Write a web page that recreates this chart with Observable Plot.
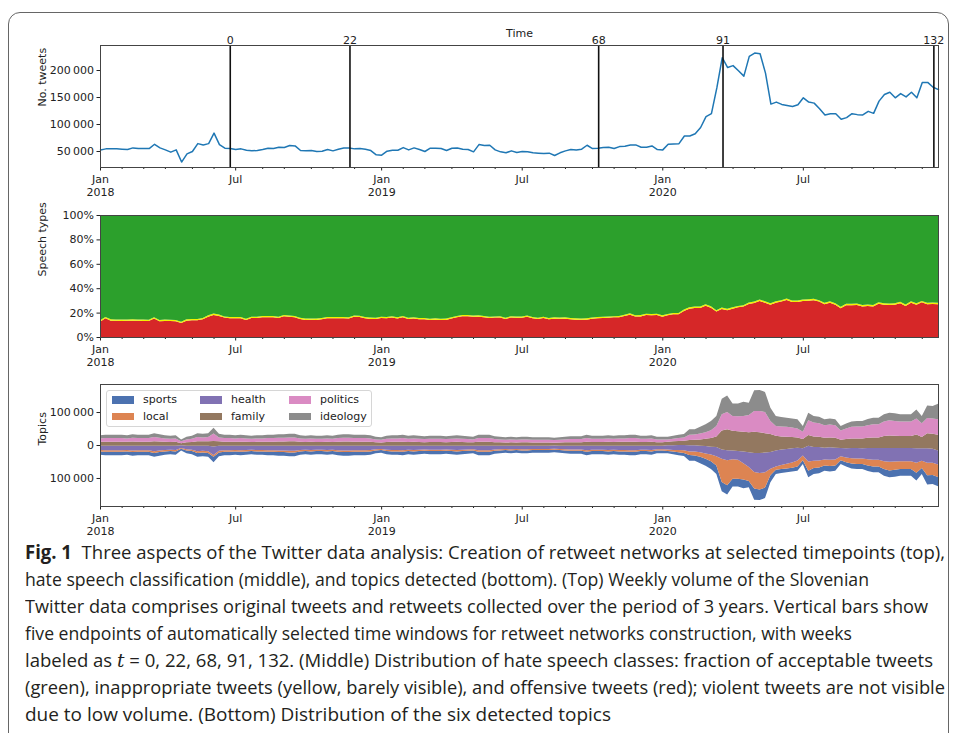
<!DOCTYPE html>
<html><head><meta charset="utf-8">
<script src="https://cdn.jsdelivr.net/npm/d3@7"></script>
<script src="https://cdn.jsdelivr.net/npm/@observablehq/plot@0.6"></script>
<style>
html,body{margin:0;padding:0;background:#fff;}
body{width:958px;height:733px;overflow:hidden;position:relative;font-family:"DejaVu Sans",sans-serif;}
#frame{position:absolute;left:8px;top:12px;width:941px;height:760px;border:1.2px solid #666;border-radius:12px;box-sizing:border-box;}
.panel{position:absolute;left:0;}
#legend{position:absolute;left:106px;top:390px;width:266px;height:37px;border:1px solid #d6d6d6;border-radius:3px;background:rgba(255,255,255,0.85);box-sizing:border-box;font:11px "DejaVu Sans";color:#222;}
#legend .sw{position:absolute;width:22px;height:7.7px;}
#legend .lb{position:absolute;line-height:13px;}
#caption{position:absolute;left:25px;top:539px;font-family:"Liberation Sans Narrow","Open Sans",sans-serif;font-size:19px;color:#231f20;}
#caption .cl{height:27px;line-height:27px;white-space:nowrap;}
#caption .cl span{display:inline-block;transform-origin:0 50%;}
</style></head>
<body>
<div id="frame"></div>
<div id="p1" class="panel" style="top:0px"></div>
<div id="p2" class="panel" style="top:195px"></div>
<div id="p3" class="panel" style="top:365px"></div>
<div id="legend"></div>
<div id="caption">
<div class="cl"><span data-w="920"><b>Fig. 1</b>&nbsp; Three aspects of the Twitter data analysis: Creation of retweet networks at selected timepoints (top),</span></div>
<div class="cl"><span data-w="844">hate speech classification (middle), and topics detected (bottom). (Top) Weekly volume of the Slovenian</span></div>
<div class="cl"><span data-w="903">Twitter data comprises original tweets and retweets collected over the period of 3 years. Vertical bars show</span></div>
<div class="cl"><span data-w="827">five endpoints of automatically selected time windows for retweet networks construction, with weeks</span></div>
<div class="cl"><span data-w="908">labeled as <i style="font-family:'DejaVu Serif',serif">t</i> = 0, 22, 68, 91, 132. (Middle) Distribution of hate speech classes: fraction of acceptable tweets</span></div>
<div class="cl"><span data-w="920">(green), inappropriate tweets (yellow, barely visible), and offensive tweets (red); violent tweets are not visible</span></div>
<div class="cl"><span data-w="586">due to low volume. (Bottom) Distribution of the six detected topics</span></div>
</div>
<script>
// ---------- data (weekly, starting Monday 2018-01-01) ----------
const firstWeek = "2018-01-01";
const tweets = [
53000,54900,54900,54900,54300,53700,56700,55500,55500,55500,
63400,56700,53000,48800,53000,30500,45700,50000,64600,62200,
64600,84100,62800,56100,55500,53700,54900,52400,51200,51800,
53700,56100,55500,57900,57300,61000,60400,51800,51200,51800,
50000,50600,53700,51200,54300,56700,56700,54900,55500,54300,
51800,43900,43300,50600,52400,52400,57300,53000,56700,53700,
50000,56100,56100,55500,51800,56100,56700,54300,53700,49400,
62800,61000,61600,53000,49400,47600,51200,48200,50000,49400,
47600,47000,46300,47000,42700,47600,51200,53700,53000,54300,
61600,55500,56100,57300,57900,55500,59100,59800,62200,62200,
57900,57900,60400,53700,53000,63400,64000,64600,78700,78700,
82900,94500,114600,120100,167700,223800,205500,209100,199400,189600,
226200,232300,231100,195100,137800,141500,137200,135400,133500,136600,
149400,141500,139600,129300,117700,120100,120100,109800,112800,120100,
118300,117700,124400,120700,143300,155500,159800,149400,157300,151200,
159800,149400,178000,178000,168900,164600];

// share of offensive tweets (%) and inappropriate tweets (%)
const offensive = [
12.6,15.3,13.4,13.4,13.2,13.4,13.4,13.4,13.2,13.2,
15.1,12.9,13.2,13.2,12.9,11.5,13.4,13.7,13.7,14.5,
16.7,18.1,17.3,15.9,15.3,15.3,15.3,14.0,15.6,15.6,
16.2,16.2,16.2,15.6,17.0,16.7,16.2,14.8,14.0,14.2,
14.0,14.5,15.3,15.3,15.3,15.3,15.1,16.7,16.4,15.3,
14.8,14.8,15.6,15.3,15.9,15.1,16.2,14.8,15.1,14.5,
14.5,14.0,14.2,14.0,14.0,15.1,16.2,17.0,17.0,16.7,
16.7,16.2,15.6,15.9,15.9,14.8,15.9,15.8,15.8,16.7,
15.3,14.8,15.6,14.5,15.0,15.0,15.0,14.5,14.2,14.2,
14.2,15.0,15.3,15.6,15.8,16.1,16.1,17.2,18.3,16.9,
16.9,18.0,17.8,18.0,16.7,17.8,18.6,18.6,21.3,23.2,
23.8,23.8,25.7,24.0,20.8,23.0,21.9,23.2,24.3,24.9,
27.0,27.9,29.5,28.1,26.5,28.1,29.0,30.3,28.7,28.7,
29.5,29.8,30.1,29.0,26.8,28.1,26.5,23.5,26.0,26.0,
26.2,25.1,25.4,25.1,27.3,26.5,26.2,26.5,27.6,25.4,
28.1,26.5,28.4,26.8,27.0,26.8];
const inappropriate = [
1.1,1.0,1.1,1.0,1.1,1.0,1.1,1.0,1.1,1.0,1.1,1.0,1.1,1.0,1.1,1.0,1.1,1.0,1.1,1.0,
1.1,1.2,1.1,1.0,1.1,1.0,1.1,1.0,1.1,1.0,1.1,1.0,1.1,1.0,1.1,1.0,1.1,1.0,1.1,1.0,
1.1,1.0,1.1,1.0,1.1,1.0,1.1,1.0,1.1,1.0,1.1,1.0,1.1,1.0,1.1,1.0,1.1,1.0,1.1,1.0,
1.1,1.0,1.1,1.0,1.1,1.0,1.1,1.0,1.1,1.0,1.1,1.0,1.1,1.0,1.1,1.0,1.1,1.0,1.1,1.0,
1.1,1.0,1.1,1.0,1.1,1.0,1.1,1.0,1.1,1.0,1.1,1.0,1.1,1.0,1.1,1.0,1.1,1.0,1.1,1.0,
1.1,1.0,1.1,1.0,1.1,1.0,1.1,1.0,1.2,1.2,1.2,1.2,1.2,1.2,1.2,1.2,1.2,1.2,1.2,1.2,
1.2,1.2,1.2,1.2,1.2,1.2,1.2,1.2,1.2,1.2,1.2,1.2,1.2,1.2,1.2,1.2,1.2,1.2,1.2,1.2,
1.2,1.2,1.2,1.2,1.2,1.2,1.2,1.2,1.2,1.2,1.2,1.2,1.2,1.2,1.2,1.2];

// topic volumes (thousands of tweets)
const sports = [
10,10.5,10.5,10.5,10.5,10,11,10.5,10.5,10.5,12,11,10,9.5,10,5.5,8.5,9.5,12,11.5,
12,17,11.5,10.5,10.5,10,10.5,10,9.5,10,10,10.5,10.5,11,11,11.5,11.5,10,9.5,10,
9.5,9.5,10,9.5,10.5,11,11,10.5,10.5,10.5,10,8.5,8,9.5,10,10,10.5,9.5,10,9.5,
9,9.5,9.5,9.5,9,9.5,10,9.5,9,8.5,10.5,10.5,10.5,9,8.5,8,8.5,8,8.5,8.5,
8,8,8,8,7.5,8,8.5,9,9,9,10.5,9.5,9.5,9.5,10,9.5,10,10,10.5,10.5,
9.5,9.5,10,8.5,8.5,7,8,9,9,18,16,19,21,24,26,
28,28,24,24,26,19,34,32,32,21,13,12,12,11,13,12,20,18,18,16,
16,16,12,13,15,15,15,17,18,18,20,21,21,20,20,20,24,18,28,27,28];
const local = [
4,4.5,4.5,4.5,4.5,4,4.5,4.5,4.5,4.5,5,4.5,4,4,4,2.5,3.5,4,5,5,
5,5,5,4.5,4.5,4,4.5,4,4,4,4,4.5,4.5,4.5,4.5,5,5,4,4,4,
4,4,4,4,4.5,4.5,4.5,4.5,4.5,4.5,4,3.5,3,4,4,4,4.5,4,4,4,
3.5,4,4,4,3.5,4,4,4,3.5,3.5,4.5,4.5,4.5,3.5,3.5,3,3.5,3,3.5,3.5,
3,3,3,3,3,3,3.5,3.5,3.5,3.5,4.5,4,4,4,4,4,4,4,4.5,4.5,
4,4,4,3.5,3.5,4,5,7,8,10,12,14,16,20,28,
70,76,59,57,50,42,50,50,46,20,10,12,14,16,18,14,28,22,21,18,
19,18,12,14,16,17,17,19,20,20,24,26,25,24,24,24,30,22,38,37,38];
const health = [
13.5,14,14,14,14,13.5,15,14,14,14,16.5,15,13.5,12.5,13.5,8,11,12.5,16.5,15.5,
16.5,26,15.5,14,14,13.5,14,13.5,12.5,13.5,13.5,14,14,15,15,15.5,15.5,13.5,12.5,13.5,
12.5,12.5,13.5,12.5,14,15,15,14,14,14,13.5,11,10.5,12.5,13.5,13.5,14,12.5,13.5,12.5,
12,12.5,12.5,12.5,12,12.5,13.5,12.5,12,11,14,14,14,12,11,10.5,11,10.5,11,11,
10.5,10.5,10.5,10.5,10,10.5,11,12,12,12,14,12.5,12.5,12.5,13.5,12.5,13.5,13.5,14,14,
12.5,12.5,13.5,11,11,13,14,15,16,19,19,20,23,24,28,
28,30,26,27,35,45,58,61,60,51,48,47,45,43,39,22,48,42,41,36,
38,36,25,28,31,32,31,34,36,36,40,42,41,40,40,40,44,38,44,43,42];
const family = [
11.5,12,12,12,12,11.5,12.5,12,12,12,13.5,12.5,11.5,11,11.5,6.5,10,11,13.5,13,
13.5,17,13,12,12,11.5,12,11.5,11,11.5,11.5,12,12,12.5,12.5,13,13,11.5,11,11.5,
11,11,11.5,11,12,12.5,12.5,12,12,12,11.5,10,9.5,11,11.5,11.5,12,11,11.5,11,
10.5,11,11,11,10.5,11,11.5,11,10.5,10,12,12,12,10.5,10,9.5,10,9.5,10,10,
9.5,9.5,9.5,9.5,8.5,9.5,10,10.5,10.5,10.5,12,11,11,11,11.5,11,11.5,11.5,12,12,
11,11,11.5,10,10,11,12,12,13,16,17,19,22,26,32,
58,64,60,60,60,61,64,63,59,54,45,40,37,34,31,28,32,32,31,30,
30,30,25,28,29,29,30,31,32,32,36,38,37,36,36,36,42,34,46,45,48];
const politics = [
10.5,11,11,11,11,10.5,11.5,11,11,11,13,11.5,10.5,10,10.5,6,9,10,13,12,
13,22,12,11,11,10.5,11,10.5,10,10.5,10.5,11,11,11.5,11.5,12,12,10.5,10,10.5,
10,10,10.5,10,11,11.5,11.5,11,11,11,10.5,9,8.5,10,10.5,10.5,11,10,10.5,10,
9.5,10,10,10,9.5,10,10.5,10,9.5,9,11,11,11,9.5,9,8.5,9,8.5,9,9,
8.5,8.5,8.5,8.5,8,8.5,9,9.5,9.5,9.5,11,10,10,10,10.5,10,10.5,10.5,11,11,
10,10,10.5,9,9,7,8,9,10,16,16,18,20,24,32,
49,52,45,45,48,52,63,64,64,40,30,30,30,29,27,22,45,42,41,38,
39,38,28,32,35,36,36,38,40,40,44,46,45,44,44,44,48,42,46,46,47];
const ideology = [
9.5,10,10,10,10,9.5,10.5,10,10,10,12,10.5,9.5,9,9.5,5.5,8,9,12,11,
12,18,11,10,10,9.5,10,9.5,9,9.5,9.5,10,10,10.5,10.5,11,11,9.5,9,9.5,
9,9,9.5,9,10,10.5,10.5,10,10,10,9.5,8,7.5,9,9.5,9.5,10,9,9.5,9,
8.5,9,9,9,8.5,9,9.5,9,8.5,8,10,10,10,8.5,8,7.5,8,7.5,8,8,
7.5,7.5,7.5,7.5,7,7.5,8,8.5,8.5,8.5,10,9,9,9,9.5,9,9.5,9.5,10,10,
9,9,9.5,8,8,8,9,10,10,17,16,20,24,28,30,
47,50,38,39,43,37,63,64,61,40,30,29,28,27,28,18,23,20,20,18,
18,18,14,15,16,17,17,19,20,20,22,23,23,22,22,22,28,22,38,38,47];

const topicNames = ["sports","local","health","family","politics","ideology"];
const topicColors = ["#4c72b0","#dd8452","#8172b3","#937860","#da8bc3","#8c8c8c"];
const topicSeries = [sports, local, health, family, politics, ideology];

// retweet-network time windows
const windowLabels = ["0","22","68","91","132"];
const windowDates = ["2018-06-18","2018-11-20","2019-10-08","2020-03-17","2020-12-15"];

// x tick labels
const majorTickDates = ["2018-01-01","2018-06-25","2018-12-31","2019-07-01","2019-12-30","2020-06-29"];
const majorTickLabels = ["Jan\n2018","Jul","Jan\n2019","Jul","Jan\n2020","Jul"];
const tweetTicks = [50000,100000,150000,200000];
const speechTicks = [0,20,40,60,80,100];
const topicTicks = [-100,0,100];

// ---------- build ----------
const t0 = new Date(firstWeek + "T00:00:00Z");
const dates = tweets.map((_, i) => d3.utcDay.offset(t0, 7 * i));
const xDomain = [dates[0], dates[dates.length - 1]];
const toDate = s => new Date(s + "T00:00:00Z");
const majorTicks = majorTickDates.map(toDate);
const majorMap = new Map(majorTicks.map((d, i) => [+d, majorTickLabels[i]]));
const winDates = windowDates.map(toDate);
const winMap = new Map(winDates.map((d, i) => [+d, windowLabels[i]]));
const majorSet = new Set(majorTicks.map(d => +d));
const minorTicks = d3.utcMonth.range(toDate("2018-01-01"), toDate("2021-01-01"))
  .map(d => d3.utcMonday.floor(d))
  .filter(d => d >= xDomain[0] && d <= xDomain[1] && !majorSet.has(+d));

const thin = d => d3.format(",")(d).replace(/,/g, "\u2009");

const tweetRows = dates.map((date, i) => ({date, value: tweets[i]}));
const speechRows = dates.map((date, i) => ({date, off: offensive[i], inap: inappropriate[i]}));
// symmetric ("sym") stack: each week's stack is centred on zero
const topicRows = [];
dates.forEach((date, i) => {
  const vals = topicSeries.map(s => s[i]);
  let y = -d3.sum(vals) / 2;
  topicNames.forEach((name, k) => {
    topicRows.push({date, topic: name, y1: y, y2: y + vals[k]});
    y += vals[k];
  });
});

const ink = "#222";
const common = {
  width: 958, marginLeft: 100, marginRight: 20,
  style: {fontFamily: "DejaVu Sans", fontSize: "11px", color: ink, background: "transparent", overflow: "visible"}
};
const xAxes = () => [
  Plot.axisX({ticks: majorTicks, tickFormat: d => majorMap.get(+d), tickSize: 3.5, tickPadding: 3, label: null, lineHeight: 1.18, stroke: ink}),
  Plot.axisX({ticks: minorTicks, tickFormat: () => "", tickSize: 2, label: null, stroke: ink})
];

const p1 = Plot.plot({
  ...common, height: 195, marginTop: 45, marginBottom: 28,
  x: {type: "utc", domain: xDomain},
  y: {domain: [20400, 246300]},
  marks: [
    ...xAxes(),
    Plot.axisX({anchor: "top", ticks: winDates, tickFormat: d => winMap.get(+d), tickSize: 0, tickPadding: 2, label: null}),
    Plot.axisY({ticks: tweetTicks, tickFormat: thin, tickSize: 3.5, tickPadding: 3, label: null, stroke: ink}),
    Plot.lineY(tweetRows, {x: "date", y: "value", stroke: "#1f77b4", strokeWidth: 1.5}),
    Plot.ruleX(winDates, {stroke: "#111", strokeWidth: 1.6}),
    Plot.frame({stroke: "#444", strokeWidth: 1}),
    Plot.text(["Time"], {frameAnchor: "top", dy: -16, fill: ink}),
    Plot.text(["No. tweets"], {frameAnchor: "left", rotate: -90, dx: -58, fill: ink})
  ]
});
document.getElementById("p1").append(p1);

const p2 = Plot.plot({
  ...common, height: 170, marginTop: 20, marginBottom: 28,
  x: {type: "utc", domain: xDomain},
  y: {domain: [0, 100]},
  marks: [
    Plot.areaY(speechRows, {x: "date", y1: 0, y2: "off", fill: "#d62728"}),
    Plot.areaY(speechRows, {x: "date", y1: "off", y2: d => d.off + d.inap, fill: "#f2f200"}),
    Plot.areaY(speechRows, {x: "date", y1: d => d.off + d.inap, y2: 100, fill: "#2ca02c"}),
    ...xAxes(),
    Plot.axisY({ticks: speechTicks, tickFormat: d => d + "%", tickSize: 3.5, tickPadding: 3, label: null, stroke: ink}),
    Plot.frame({stroke: "#444", strokeWidth: 1}),
    Plot.text(["Speech types"], {frameAnchor: "left", rotate: -90, dx: -58, fill: ink})
  ]
});
document.getElementById("p2").append(p2);

const p3 = Plot.plot({
  ...common, height: 169, marginTop: 19, marginBottom: 28,
  x: {type: "utc", domain: xDomain},
  y: {domain: [-185, 185]},
  color: {domain: topicNames, range: topicColors},
  marks: [
    Plot.areaY(topicRows, {x: "date", y1: "y1", y2: "y2", z: "topic", fill: "topic"}),
    ...xAxes(),
    Plot.axisY({ticks: topicTicks, tickFormat: d => d === 0 ? "0" : thin(Math.abs(d) * 1000), tickSize: 3.5, tickPadding: 3, label: null, stroke: ink}),
    Plot.frame({stroke: "#444", strokeWidth: 1}),
    Plot.text(["Topics"], {frameAnchor: "left", rotate: -90, dx: -58, fill: ink})
  ]
});
document.getElementById("p3").append(p3);

// legend (inside the bottom panel)
const legend = document.getElementById("legend");
const colX = [5, 93, 182];
topicNames.forEach((name, i) => {
  const col = Math.floor(i / 2), row = i % 2;
  const cy = row === 0 ? 9 : 25.5;
  const sw = document.createElement("div");
  sw.className = "sw";
  sw.style.left = colX[col] + "px";
  sw.style.top = (cy - 3.85) + "px";
  sw.style.background = topicColors[i];
  legend.append(sw);
  const lb = document.createElement("div");
  lb.className = "lb";
  lb.style.left = (colX[col] + 31) + "px";
  lb.style.top = (cy - 7) + "px";
  lb.textContent = name;
  legend.append(lb);
});

// fit caption lines to the reference line widths
document.querySelectorAll("#caption .cl span").forEach(s => {
  const target = +s.dataset.w;
  const w = s.getBoundingClientRect().width;
  if (w > 0) s.style.transform = `scaleX(${target / w})`;
});
</script>
</body></html>
